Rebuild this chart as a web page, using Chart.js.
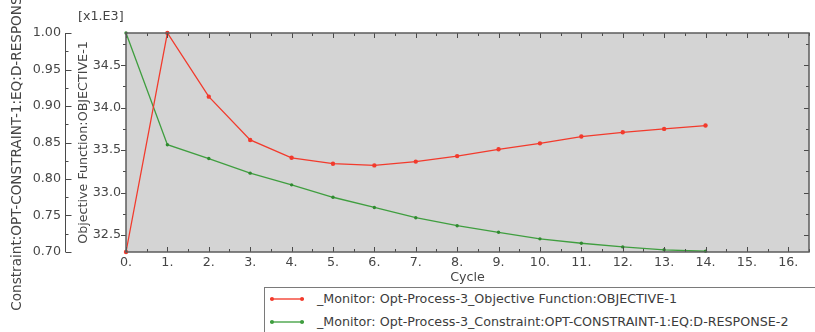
<!DOCTYPE html>
<html>
<head>
<meta charset="utf-8">
<script src="https://cdn.jsdelivr.net/npm/chart.js@4.4.1/dist/chart.umd.min.js"></script>
<style>
  html, body { margin: 0; padding: 0; background: #fff; overflow: hidden; }
  #wrap { position: relative; width: 815px; height: 332px; overflow: hidden; }
  #c { position: absolute; left: 0; top: 0; }
  #legend { position: absolute; left: 264px; top: 287px; width: 620px; height: 60px;
            border: 1px solid #7a7a7a; background: #fff; box-sizing: border-box;
            font-family: 'DejaVu Sans', sans-serif; font-size: 12.7px; color: #3c3c3c; }
  .row { position: absolute; left: 0; height: 16px; line-height: 16px; white-space: nowrap; }
  .sample { position: absolute; left: 5px; top: 7px; width: 34px; height: 1.5px; }
  .dot { position: absolute; top: -1.25px; width: 4px; height: 4px; border-radius: 2px; }
  .txt { position: absolute; left: 52px; top: 0; }
</style>
</head>
<body>
<div id="wrap">
  <canvas id="c" width="815" height="332"></canvas>
  <div id="legend"></div>
</div>
<script>
// ---- data ----
const cycles = [0, 1, 2, 3, 4, 5, 6, 7, 8, 9, 10, 11, 12, 13, 14];
const objective = [32.30, 34.88, 34.13, 33.62, 33.41, 33.34, 33.32, 33.365, 33.43, 33.51, 33.58, 33.66, 33.71, 33.75, 33.79];
const constraint = [1.000, 0.847, 0.828, 0.808, 0.792, 0.775, 0.761, 0.747, 0.736, 0.727, 0.718, 0.712, 0.707, 0.703, 0.701];
const xTicks = [0, 1, 2, 3, 4, 5, 6, 7, 8, 9, 10, 11, 12, 13, 14, 15, 16];
const objTicks = [32.5, 33.0, 33.5, 34.0, 34.5];
const conTicks = [0.70, 0.75, 0.80, 0.85, 0.90, 0.95, 1.00];
const objLabel = '_Monitor: Opt-Process-3_Objective Function:OBJECTIVE-1';
const conLabel = '_Monitor: Opt-Process-3_Constraint:OPT-CONSTRAINT-1:EQ:D-RESPONSE-2';

const FONT = "'DejaVu Sans', sans-serif";
const TXT = '#454545';
const RED = '#f23a2c';
const GREEN = '#3f9e3f';

const frame = {
  id: 'frame',
  beforeDatasetsDraw(chart) {
    const {ctx, chartArea: a} = chart;
    ctx.save();
    ctx.fillStyle = '#d4d4d4';
    ctx.fillRect(a.left, a.top, a.right - a.left, a.bottom - a.top);
    ctx.restore();
  },
  afterDatasetsDraw(chart) {
    const {ctx, chartArea: a, scales} = chart;
    ctx.save();
    ctx.strokeStyle = '#4a4a4a';
    ctx.lineWidth = 1;
    ctx.beginPath();
    // x ticks, inward on bottom and top
    const xs = scales.x;
    for (let i = 0; i <= Math.round(xs.max * 2); i++) {
      const v = i / 2;
      const x = Math.round(xs.getPixelForValue(v)) + 0.5;
      const len = i % 2 === 0 ? 5 : 3;
      ctx.moveTo(x, a.bottom); ctx.lineTo(x, a.bottom - len);
      ctx.moveTo(x, a.top); ctx.lineTo(x, a.top + len);
    }
    // objective ticks: outward on left border, inward on right border
    const ys = scales.yObj;
    for (let i = Math.ceil(ys.min * 4); i <= Math.floor(ys.max * 4); i++) {
      const v = i / 4;
      const y = Math.round(ys.getPixelForValue(v)) + 0.5;
      const len = i % 2 === 0 ? 5 : 3;
      ctx.moveTo(a.left, y); ctx.lineTo(a.left - len, y);
      ctx.moveTo(a.right, y); ctx.lineTo(a.right - len, y);
    }
    // constraint axis line with ticks pointing right
    const cs = scales.yCon;
    const lx = Math.round(cs.right - 11) + 0.5;
    const yTop = cs.getPixelForValue(cs.max), yBot = cs.getPixelForValue(cs.min);
    ctx.moveTo(lx, yTop); ctx.lineTo(lx, yBot);
    const n = Math.round((cs.max - cs.min) / 0.025);
    for (let i = 0; i <= n; i++) {
      const y = Math.round(cs.getPixelForValue(cs.min + i * 0.025)) + 0.5;
      const len = i % 2 === 0 ? 6 : 3;
      ctx.moveTo(lx, y); ctx.lineTo(lx + len, y);
    }
    ctx.stroke();
    // frame
    ctx.strokeStyle = '#5c5c5c';
    ctx.lineWidth = 1.5;
    ctx.strokeRect(a.left, a.top, a.right - a.left, a.bottom - a.top);
    ctx.fillStyle = TXT;
    ctx.font = '12.7px ' + FONT;
    ctx.textAlign = 'left';
    ctx.textBaseline = 'middle';
    ctx.fillText('[x1.E3]', 78, 17);
    ctx.restore();
  }
};

const noGrid = { display: false, drawTicks: false };

const chart = new Chart(document.getElementById('c'), {
  type: 'line',
  data: {
    datasets: [
      { label: objLabel, data: cycles.map((c, i) => ({x: c, y: objective[i]})), yAxisID: 'yObj',
        borderColor: RED, backgroundColor: RED, borderWidth: 1.3, pointRadius: 2.2, pointBorderWidth: 0,
        pointBackgroundColor: RED, tension: 0, clip: false },
      { label: conLabel, data: cycles.map((c, i) => ({x: c, y: constraint[i]})), yAxisID: 'yCon',
        borderColor: GREEN, backgroundColor: GREEN, borderWidth: 1.3, pointRadius: 1.7, pointBorderWidth: 0,
        pointBackgroundColor: '#2f8a2f', tension: 0, clip: false }
    ]
  },
  options: {
    responsive: false,
    animation: false,
    events: [],
    layout: { padding: { left: 0, right: 6, top: 33, bottom: 44 } },
    plugins: { legend: { display: false }, tooltip: { enabled: false } },
    scales: {
      x: {
        type: 'linear', min: 0, max: 16.5,
        afterBuildTicks: s => { s.ticks = xTicks.map(v => ({value: v})); },
        afterFit: s => { s.height = 36; },
        grid: noGrid, border: { display: false },
        ticks: { callback: v => v + '.', color: TXT, font: { family: FONT, size: 12.7 }, padding: 3, maxRotation: 0, autoSkip: false },
        title: { display: true, text: 'Cycle', color: TXT, font: { family: FONT, size: 12.7 }, padding: { top: 0, bottom: 3 } }
      },
      yObj: {
        type: 'linear', position: 'left', weight: 0,
        min: Math.min(...objective), max: Math.max(...objective),
        afterBuildTicks: s => { s.ticks = objTicks.map(v => ({value: v})); },
        afterFit: s => { s.width = 50; },
        grid: noGrid, border: { display: false },
        ticks: { callback: v => v.toFixed(1), color: TXT, font: { family: FONT, size: 12.7 }, padding: 5 },
        title: { display: true, text: 'Objective Function:OBJECTIVE-1', color: TXT, font: { family: FONT, size: 12.7 }, padding: { top: 0, bottom: 0 } }
      },
      yCon: {
        type: 'linear', position: 'left', weight: 1,
        min: 0.70, max: 1.00,
        afterBuildTicks: s => { s.ticks = conTicks.map(v => ({value: v})); },
        afterFit: s => { s.width = 76; },
        grid: noGrid, border: { display: false },
        ticks: { callback: v => v.toFixed(2), color: TXT, font: { family: FONT, size: 12.7 }, padding: 15 },
        title: { display: true, text: 'Constraint:OPT-CONSTRAINT-1:EQ:D-RESPONSE-2', color: TXT, font: { family: FONT, size: 13.6 }, padding: { top: 9, bottom: 0 } }
      }
    }
  },
  plugins: [frame]
});

// HTML legend built from the chart's datasets
const legend = document.getElementById('legend');
const sampleColors = [['#f77a70', RED], ['#7fbf7f', GREEN]];
chart.data.datasets.forEach((ds, i) => {
  const row = document.createElement('div');
  row.className = 'row';
  row.style.top = (i === 0 ? 3 : 26) + 'px';
  const s = document.createElement('span');
  s.className = 'sample';
  s.style.background = sampleColors[i][0];
  ['0px', '30px'].forEach(l => {
    const d = document.createElement('span');
    d.className = 'dot'; d.style.left = l; d.style.background = sampleColors[i][1];
    s.appendChild(d);
  });
  const t = document.createElement('span');
  t.className = 'txt';
  t.textContent = ds.label;
  row.appendChild(s); row.appendChild(t);
  legend.appendChild(row);
});
</script>
</body>
</html>
